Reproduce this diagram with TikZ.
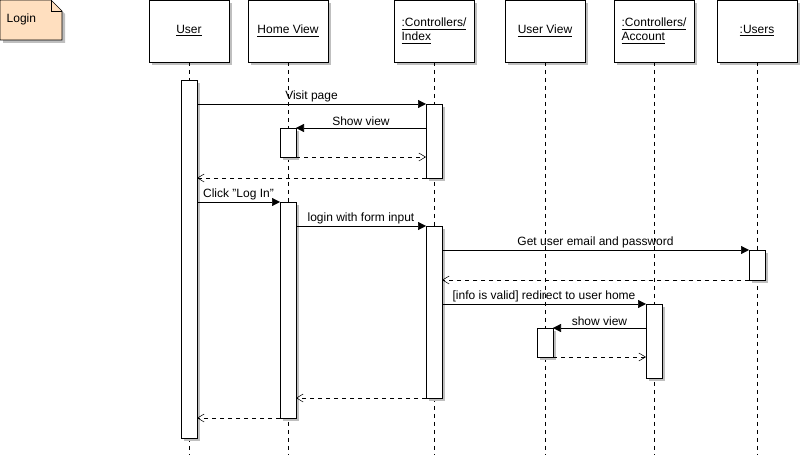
\documentclass[tikz,border=0pt]{standalone}
\usepackage{fontspec}
\setmainfont{Liberation Sans}
\begin{document}
\begin{tikzpicture}[x=0.75pt,y=-0.75pt,font=\fontsize{9}{10.5}\selectfont,
 hdr/.style={draw,fill=white,minimum width=60pt,minimum height=46.5pt,inner sep=0pt,align=left},
 sh/.style={fill=black!25},
 act/.style={draw,fill=white},
 life/.style={dash pattern=on 3pt off 3pt},
 msg/.style={-{Triangle[length=6pt,width=6pt]}},
 ret/.style={dashed,-{Straight Barb[length=5pt,width=6pt]}},
 lbl/.style={above,inner sep=1.5pt}]
\usetikzlibrary{arrows.meta}
\useasboundingbox (0,0) rectangle (801,463);
% note
\fill[black!25] (3,3) -- (54,3) -- (65,14) -- (65,43) -- (3,43) -- cycle;
\draw[fill=orange!25] (0,0) -- (51,0) -- (62,11) -- (62,40) -- (0,40) -- cycle;
\draw (51,0) -- (51,11) -- (62,11);
\node[anchor=west] (note) at (2,19) {Login};
% headers
\foreach \n/\x/\t in {u/189/\underline{User}, hv/288/\underline{Home View}, ci/434/{\underline{:Controllers/}\\\underline{Index}}, uv/545/\underline{User View}, ca/654/{\underline{:Controllers/}\\\underline{Account}}, us/757/\underline{:Users}}{
 \fill[sh] (\x-37,3) rectangle (\x+43,65);
 \draw[life] (\x,62) -- (\x,455);
 \node[hdr] (\n) at (\x,31) {\t};
}
% activations
\foreach \n/\x/\a/\b in {au/189/80/438, ai1/434/104/178, ah1/288/128/157, ah2/288/202/418, ai2/434/226/398, aus/757/250/280, aca/654/304/378, auv/545/328/357}{
 \fill[sh] (\x-5,\a+3) rectangle (\x+11,\b+3);
 \draw[act] (\x-8,\a) rectangle (\x+8,\b);
 \coordinate (\n) at (\x,\a);
}
\draw[msg] (197,104) -- node[lbl]{Visit page} (426,104);
\draw[msg] (426,128) -- node[lbl]{Show view} (296,128);
\draw[ret] (296,157) -- (426,157);
\draw[ret] (426,178) -- (197,178);
\draw[msg] (197,202) -- node[lbl]{Click "Log In"} (280,202);
\draw[msg] (296,226) -- node[lbl]{login with form input} (426,226);
\draw[msg] (442,250) -- node[lbl]{Get user email and password} (749,250);
\draw[ret] (749,280) -- (442,280);
\draw[msg] (442,304) -- node[lbl]{[info is valid] redirect to user home} (646,304);
\draw[msg] (646,328) -- node[lbl]{show view} (553,328);
\draw[ret] (553,357) -- (646,357);
\draw[ret] (426,398) -- (296,398);
\draw[ret] (280,418) -- (197,418);
\end{tikzpicture}
\end{document}
